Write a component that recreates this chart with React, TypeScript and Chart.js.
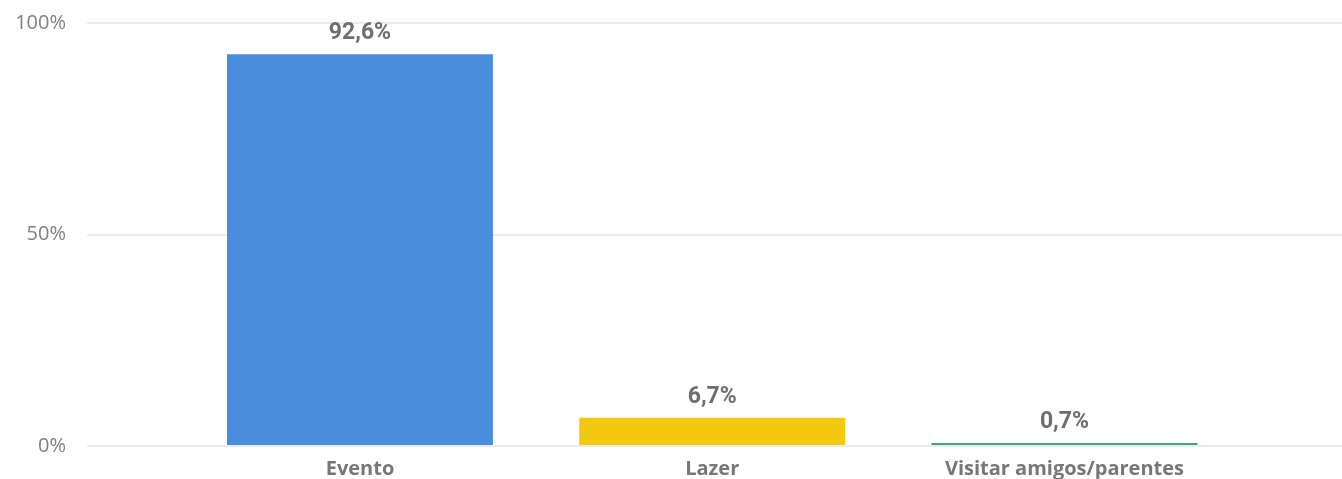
import React, { useEffect, useRef } from "react";
import { Chart, registerables } from "chart.js";

Chart.register(...registerables);

const categories = ["Evento", "Lazer", "Visitar amigos/parentes"];
const values = [92.6, 6.7, 0.7];
const barColors = ["#4A8DDC", "#F2C811", "#3AA67D"];
const yTicks = [0, 50, 100];

const fmt = (v: number) => v.toFixed(1).replace(".", ",") + "%";

const dataLabelPlugin = {
  id: "dataLabels",
  afterDatasetsDraw(chart: any) {
    const ctx = chart.ctx;
    const meta = chart.getDatasetMeta(0);
    ctx.save();
    ctx.font = "bold 23px Roboto";
    ctx.fillStyle = "#6E6E6E";
    ctx.textAlign = "center";
    ctx.textBaseline = "alphabetic";
    meta.data.forEach((bar: any, i: number) => {
      ctx.fillText(fmt(values[i]), bar.x, bar.y - 15);
    });
    ctx.restore();
  },
};

export default function App() {
  const ref = useRef<HTMLCanvasElement>(null);
  useEffect(() => {
    document.body.style.margin = "0";
    const chart = new Chart(ref.current!, {
      type: "bar",
      data: {
        labels: categories,
        datasets: [
          {
            data: values,
            backgroundColor: barColors,
            categoryPercentage: 1,
            barPercentage: 0.755,
          },
        ],
      },
      options: {
        animation: false,
        responsive: false,
        maintainAspectRatio: false,
        layout: { padding: { top: 23, right: 0, left: 0, bottom: 0 } },
        plugins: { legend: { display: false }, tooltip: { enabled: false } },
        scales: {
          x: {
            grid: { display: false },
            border: { display: false },
            ticks: {
              color: "#777777",
              font: { family: "Open Sans", size: 20, weight: "bold" },
              padding: 3,
              maxRotation: 0,
              autoSkip: false,
            },
            afterBuildTicks: (scale: any) => {
              scale._startValue = -0.775;
              scale._valueRange = 3.563;
            },
            afterFit: (scale: any) => {
              scale.height = 33;
              scale.paddingLeft = 0;
              scale.paddingRight = 0;
            },
          },
          y: {
            min: 0,
            max: 100,
            afterBuildTicks: (scale: any) => {
              scale.ticks = yTicks.map((v) => ({ value: v }));
            },
            grid: { color: "#EBEBEB", lineWidth: 2, drawTicks: false },
            border: { display: false },
            ticks: {
              color: "#808080",
              font: { family: "Open Sans", size: 20 },
              padding: 21,
              callback: (v: any) => v + "%",
            },
            afterFit: (scale: any) => {
              scale.width = 87;
              scale.paddingTop = 0;
              scale.paddingBottom = 0;
            },
          },
        },
      },
      plugins: [dataLabelPlugin],
    });
    return () => chart.destroy();
  }, []);
  return (
    <div style={{ position: "absolute", left: 0, top: 0, width: 1342, height: 479, background: "#fff" }}>
      <canvas ref={ref} width={1342} height={479} style={{ width: 1342, height: 479 }} />
    </div>
  );
}
